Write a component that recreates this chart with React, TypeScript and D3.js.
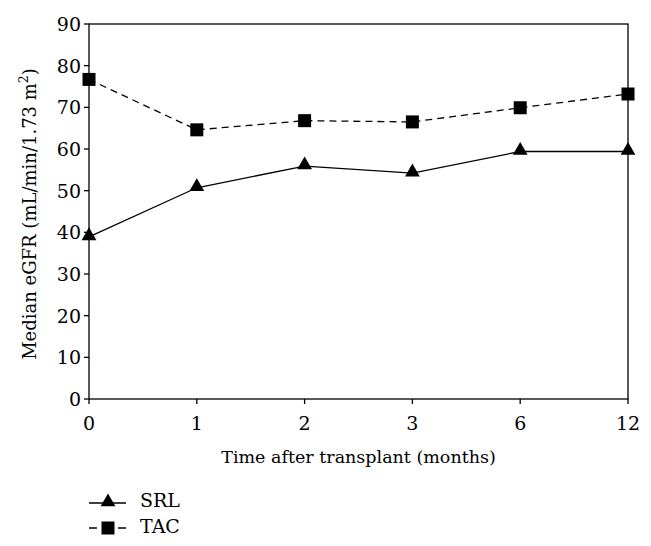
import React from "react";
import * as d3 from "d3";

const categories = ["0", "1", "2", "3", "6", "12"];
const srlValues = [38.9, 50.7, 55.9, 54.2, 59.4, 59.4];
const tacValues = [76.7, 64.6, 66.8, 66.5, 69.9, 73.2];
const yTicks = [0, 10, 20, 30, 40, 50, 60, 70, 80, 90];

const W = 651, H = 546;
const left = 89, right = 628, top = 24, bottom = 399;
const FONT = "'DejaVu Serif', 'Liberation Serif', serif";
const FS = 18;

export default function App() {
  const x = d3.scalePoint<string>().domain(categories).range([left, right]);
  const y = d3.scaleLinear().domain([0, 90]).range([bottom, top]);
  const line = d3.line<number>().x((_, i) => x(categories[i])!).y((d) => y(d));
  const tri = d3.symbol().type(d3.symbolTriangle).size(95)();
  const sq = 6.5;

  return (
    <svg width={W} height={H} style={{ position: "absolute", left: 0, top: 0, background: "#fff" }}>
      <rect x={0} y={0} width={W} height={H} fill="#fff" />
      <rect x={left} y={top} width={right - left} height={bottom - top} fill="none" stroke="#000" strokeWidth={1.3} />
      {yTicks.map((t) => (
        <g key={t}>
          <line x1={left - 5} x2={left} y1={y(t)} y2={y(t)} stroke="#000" strokeWidth={1.3} />
          <text x={left - 8} y={y(t)} dy="0.36em" textAnchor="end" fontFamily={FONT} fontSize={19}>{t}</text>
        </g>
      ))}
      {categories.map((c) => (
        <g key={c}>
          <line x1={x(c)} x2={x(c)} y1={bottom} y2={bottom + 5} stroke="#000" strokeWidth={1.3} />
          <text x={x(c)} y={430} textAnchor="middle" fontFamily={FONT} fontSize={19}>{c}</text>
        </g>
      ))}
      <text x={(left + right) / 2} y={463} textAnchor="middle" fontFamily={FONT} fontSize={17.5}>Time after transplant (months)</text>
      <text transform={`translate(36,214) rotate(-90)`} textAnchor="middle" fontFamily={FONT} fontSize={FS}>
        Median eGFR (mL/min/1.73 m<tspan dy="-8" fontSize={12.5}>2</tspan><tspan dy="8">)</tspan>
      </text>
      <path d={line(tacValues)!} fill="none" stroke="#000" strokeWidth={1.3} strokeDasharray="7,5" />
      <path d={line(srlValues)!} fill="none" stroke="#000" strokeWidth={1.3} />
      {tacValues.map((v, i) => (
        <rect key={"t" + i} x={x(categories[i])! - sq} y={y(v) - sq} width={sq * 2} height={sq * 2} fill="#000" />
      ))}
      {srlValues.map((v, i) => (
        <path key={"s" + i} d={tri!} transform={`translate(${x(categories[i])},${y(v) - 1})`} fill="#000" />
      ))}
      <line x1={89} x2={126} y1={503} y2={503} stroke="#000" strokeWidth={1.3} />
      <path d={tri!} transform="translate(108,502)" fill="#000" />
      <text x={140} y={507} fontFamily={FONT} fontSize={19}>SRL</text>
      <line x1={89} x2={126} y1={528} y2={528} stroke="#000" strokeWidth={1.3} strokeDasharray="8,21,8" />
      <rect x={108 - sq} y={528 - sq} width={sq * 2} height={sq * 2} fill="#000" />
      <text x={140} y={533} fontFamily={FONT} fontSize={19}>TAC</text>
    </svg>
  );
}
